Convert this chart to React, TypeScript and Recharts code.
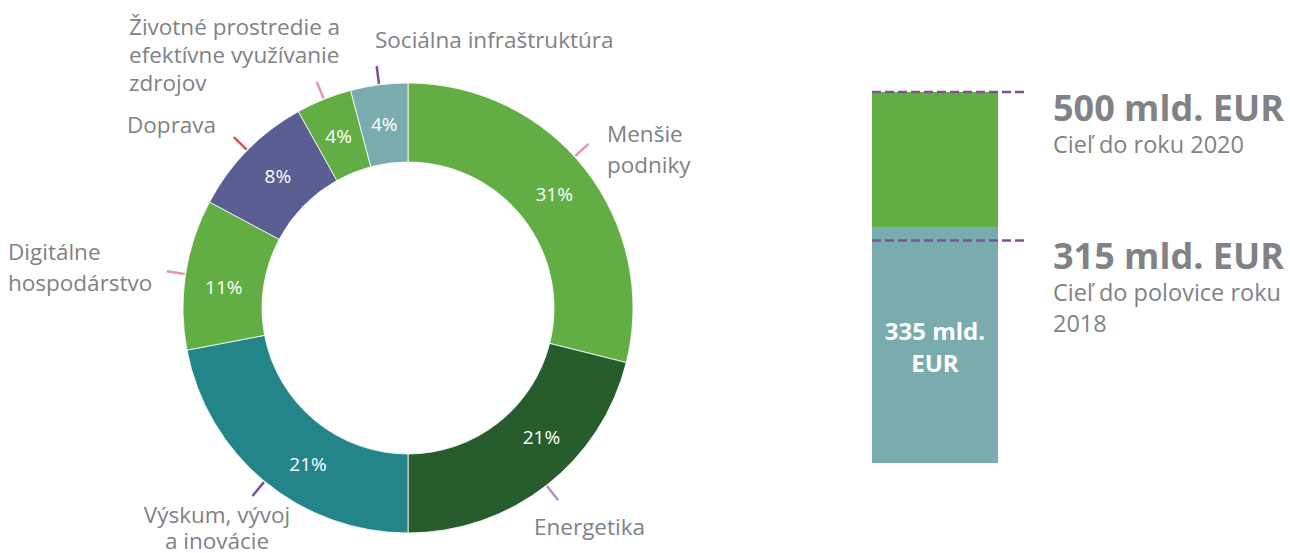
import React from 'react';
import { PieChart, Pie, Cell, BarChart, Bar, XAxis, YAxis, ReferenceLine, LabelList } from 'recharts';

// ---------- data ----------
const sectors = [
  'Menšie podniky',
  'Energetika',
  'Výskum, vývoj a inovácie',
  'Digitálne hospodárstvo',
  'Doprava',
  'Životné prostredie a efektívne využívanie zdrojov',
  'Sociálna infraštruktúra',
];
// shares as drawn (angles)
const sectorShares = [28.9, 21.1, 22.0, 10.8, 9.1, 4.0, 4.1];
const sectorPercentLabels = ['31%', '21%', '21%', '11%', '8%', '4%', '4%'];
const sectorLabelLines = [
  ['Menšie', 'podniky'],
  ['Energetika'],
  ['Výskum, vývoj', 'a inovácie'],
  ['Digitálne', 'hospodárstvo'],
  ['Doprava'],
  ['Životné prostredie a', 'efektívne využívanie', 'zdrojov'],
  ['Sociálna infraštruktúra'],
];

const barCategories = ['EFSI'];
const mobilisedDrawn = [318];
const remainingDrawn = [182];
const mobilisedLabelLines = ['335 mld.', 'EUR'];
const targetLevels = [500, 300];
const targetTitles = ['500 mld. EUR', '315 mld. EUR'];
const targetNotes = [['Cieľ do roku 2020'], ['Cieľ do polovice roku', '2018']];

// ---------- styles ----------
const FONT = '"Open Sans", "Noto Sans", sans-serif';
const GRAY = '#808285';
const SLICE_COLORS = ['#62ae44', '#275c2c', '#23858a', '#62ae44', '#5a5e92', '#62ae44', '#7aabaf'];
const TICK_COLORS = ['#dd9ab2', '#a39bd0', '#7d4e96', '#dd9ab2', '#d9534f', '#dd9ab2', '#7d4e96'];
// label placement relative to the pie centre
const LABEL_LAYOUT = [
  { dx: 199, dy: -166, anchor: 'start', lh: 31, tickShift: 4.3, pctShift: 0 },
  { dx: 126, dy: 227, anchor: 'start', lh: 30, tickShift: 0, pctShift: 8 },
  { dx: -191, dy: 215, anchor: 'middle', lh: 26, tickShift: 0, pctShift: 7 },
  { dx: -400, dy: -48, anchor: 'start', lh: 31, tickShift: 0, pctShift: 2 },
  { dx: -281, dy: -175, anchor: 'start', lh: 30, tickShift: 0, pctShift: -1 },
  { dx: -279, dy: -273, anchor: 'start', lh: 28, tickShift: 0, pctShift: 0 },
  { dx: -33, dy: -260, anchor: 'start', lh: 30, tickShift: 0, pctShift: 0 },
];
const BAR_FRACTION = 126 / 153;

const pieData = sectors.map((name, i) => ({ name, value: sectorShares[i] }));
const barData = barCategories.map((name, i) => ({
  name,
  mobilised: mobilisedDrawn[i],
  remaining: remainingDrawn[i],
}));

const RAD = Math.PI / 180;
const polar = (cx: number, cy: number, r: number, angle: number) => ({
  x: cx + Math.cos(-angle * RAD) * r,
  y: cy + Math.sin(-angle * RAD) * r,
});

const renderPieLabel = (props: any) => {
  const { cx, cy, midAngle, innerRadius, outerRadius, index } = props;
  const lay = LABEL_LAYOUT[index];
  const mid = polar(cx, cy, (innerRadius + outerRadius) / 2, midAngle + lay.pctShift);
  const t1 = polar(cx, cy, outerRadius + 1, midAngle + lay.tickShift);
  const t2 = polar(cx, cy, outerRadius + 19, midAngle + lay.tickShift);
  return (
    <g key={`lbl-${index}`}>
      <text
        x={mid.x}
        y={mid.y}
        fill="#ffffff"
        fontSize={19}
        fontFamily={FONT}
        textAnchor="middle"
        dominantBaseline="central"
      >
        {sectorPercentLabels[index]}
      </text>
      <line x1={t1.x} y1={t1.y} x2={t2.x} y2={t2.y} stroke={TICK_COLORS[index]} strokeWidth={2.5} />
      <text
        x={cx + lay.dx}
        y={cy + lay.dy}
        fill={GRAY}
        fontSize={22.5}
        fontFamily={FONT}
        textAnchor={lay.anchor}
      >
        {sectorLabelLines[index].map((ln, j) => (
          <tspan key={j} x={cx + lay.dx} y={cy + lay.dy + j * lay.lh}>
            {ln}
          </tspan>
        ))}
      </text>
    </g>
  );
};

const BarShape = (props: any) => {
  const { x, y, width, height, fill } = props;
  return <rect x={x} y={y} width={width * BAR_FRACTION} height={height} fill={fill} />;
};

const renderInsideLabel = (props: any) => {
  const { x, y, width, height } = props;
  const cxp = x + (width * BAR_FRACTION) / 2;
  const cyp = y + height / 2;
  return (
    <text
      x={cxp}
      y={cyp}
      fill="#ffffff"
      fontSize={24}
      fontWeight={700}
      fontFamily={FONT}
      textAnchor="middle"
    >
      {mobilisedLabelLines.map((ln, j) => (
        <tspan key={j} x={cxp} y={cyp - 5 + j * 32}>
          {ln}
        </tspan>
      ))}
    </text>
  );
};

const makeTargetLabel = (i: number) => (props: any) => {
  const vb = props.viewBox || {};
  const x = (vb.x || 0) + (vb.width || 0) + 28;
  const y = vb.y || 0;
  return (
    <g>
      <text x={x} y={y + 29} fill={GRAY} fontSize={36} fontWeight={700} fontFamily={FONT}>
        {targetTitles[i]}
      </text>
      <text fill={GRAY} fontSize={23.5} fontFamily={FONT}>
        {targetNotes[i].map((ln, j) => (
          <tspan key={j} x={x} y={y + 61 + j * 31}>
            {ln}
          </tspan>
        ))}
      </text>
    </g>
  );
};

export default function App() {
  return (
    <div style={{ position: 'absolute', left: 0, top: 0, width: 1290, height: 553, background: '#fff' }}>
      <div style={{ position: 'absolute', left: 0, top: 0 }}>
        <PieChart width={840} height={553} margin={{ top: 0, right: 0, bottom: 0, left: 0 }}>
          <Pie
            data={pieData}
            dataKey="value"
            nameKey="name"
            cx={408}
            cy={308}
            innerRadius={146}
            outerRadius={225}
            startAngle={90}
            endAngle={-270}
            stroke="#ffffff"
            strokeWidth={0.8}
            label={renderPieLabel}
            labelLine={false}
            isAnimationActive={false}
          >
            {pieData.map((d, i) => (
              <Cell key={d.name} fill={SLICE_COLORS[i]} />
            ))}
          </Pie>
        </PieChart>
      </div>
      <div style={{ position: 'absolute', left: 860, top: 0 }}>
        <BarChart
          width={430}
          height={553}
          data={barData}
          margin={{ top: 92, right: 265, bottom: 90, left: 12 }}
          barCategoryGap={0}
        >
          <XAxis dataKey="name" hide />
          <YAxis hide domain={[0, 500]} />
          <Bar dataKey="mobilised" stackId="a" fill="#7aabaf" shape={BarShape} isAnimationActive={false}>
            <LabelList dataKey="mobilised" content={renderInsideLabel} />
          </Bar>
          <Bar dataKey="remaining" stackId="a" fill="#62ae44" shape={BarShape} isAnimationActive={false} />
          {targetLevels.map((lvl, i) => (
            <ReferenceLine
              key={lvl}
              y={lvl}
              stroke="#7b5592"
              strokeWidth={2.5}
              strokeDasharray="9 4"
              ifOverflow="visible"
              label={makeTargetLabel(i)}
            />
          ))}
        </BarChart>
      </div>
    </div>
  );
}
